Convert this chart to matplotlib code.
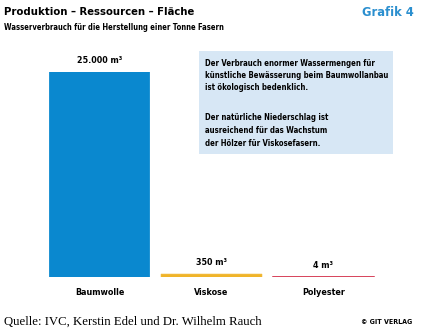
import matplotlib.pyplot as plt
from matplotlib.patches import Rectangle

categories = ["Baumwolle", "Viskose", "Polyester"]
values = [25000, 350, 4]
value_labels = ["25.000 m³", "350 m³", "4 m³"]
colors = ["#0a88cf", "#f0b429", "#d8475f"]

note_lines_1 = ["Der Verbrauch enormer Wassermengen für",
                "künstliche Bewässerung beim Baumwollanbau",
                "ist ökologisch bedenklich."]
note_lines_2 = ["Der natürliche Niederschlag ist",
                "ausreichend für das Wachstum",
                "der Hölzer für Viskosefasern."]

plt.rcParams['font.family'] = ['DejaVu Sans']
plt.rcParams['font.stretch'] = 'condensed'

W, H = 425, 332
fig = plt.figure(figsize=(W / 100, H / 100), dpi=100)
fig.patch.set_facecolor("white")


def fx(px):
    return px / W


def fy(py):
    return 1 - py / H


# bar axes: bottom at y=277 px, 25000 reaches y=72 px
ax = fig.add_axes([fx(43.5), fy(277), fx(336), (277 - 72) / H])
x = range(len(categories))
bars = ax.bar(x, values, width=0.9, color=colors, edgecolor=colors,
              linewidth=[0, 0.5, 1.3])
for b in bars:
    b.set_snap(False)
ax.set_xlim(-0.5, 2.5)
ax.set_ylim(0, 25000)
ax.axis("off")

for i, (v, lab) in enumerate(zip(values, value_labels)):
    ax.annotate(lab, (i, v), xytext=(0, 5), textcoords="offset points",
                ha="center", va="bottom", fontsize=6.4, fontweight="bold",
                annotation_clip=False)
    ax.annotate(categories[i], (i, 0), xytext=(0, -8), textcoords="offset points",
                ha="center", va="top", fontsize=6.4, fontweight="bold",
                annotation_clip=False)

# titles
fig.text(fx(4), fy(12), "Produktion – Ressourcen – Fläche", fontsize=8.1,
         fontweight="bold", va="center", ha="left")
fig.text(fx(4), fy(27), "Wasserverbrauch für die Herstellung einer Tonne Fasern",
         fontsize=5.5, fontweight="bold", va="center", ha="left")
fig.text(fx(414), fy(12), "Grafik 4", fontsize=9.2, fontweight="bold",
         color="#2b8fcf", va="center", ha="right")

# note box
fig.patches.append(Rectangle((fx(199), fy(154)), fx(194), (154 - 51) / H,
                             transform=fig.transFigure, facecolor="#d7e7f5",
                             edgecolor="none"))
pitch = 12.5
for start, lines in [(63, note_lines_1), (118, note_lines_2)]:
    for k, line in enumerate(lines):
        fig.text(fx(205), fy(start + k * pitch), line, fontsize=5.6,
                 fontweight="bold", va="center", ha="left")

# footer
fig.text(fx(4), fy(322), "Quelle: IVC, Kerstin Edel und Dr. Wilhelm Rauch",
         fontsize=9.2, family="Liberation Serif", stretch="normal",
         va="center", ha="left")
fig.text(fx(412), fy(322), "© GIT VERLAG", fontsize=5.0, fontweight="bold",
         va="center", ha="right")

fig.savefig("out.png", dpi=100)
